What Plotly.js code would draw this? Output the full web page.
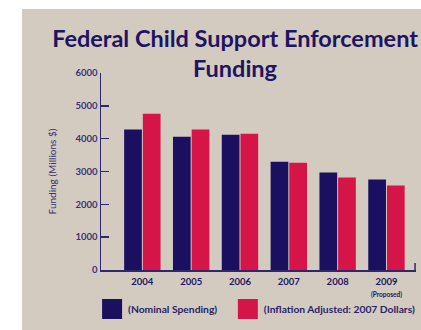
<!DOCTYPE html>
<html>
<head>
<meta charset="utf-8">
<script src="https://cdn.plot.ly/plotly-3.0.1.min.js"></script>
<style>
  html, body { margin: 0; padding: 0; background: #ffffff; }
  #chart { position: absolute; left: 22px; top: 9px; width: 399px; height: 321px; }
</style>
</head>
<body>
<div id="chart"></div>
<script>
// Federal child support enforcement funding, millions of dollars
const years = ['2004', '2005', '2006', '2007', '2008', '2009'];
const yearLabels = ['2004', '2005', '2006', '2007', '2008',
  '2009<br><span style="font-size:6.5px">(Proposed)</span>'];
const nominal = [4280, 4060, 4120, 3300, 2970, 2760];
const inflationAdjusted = [4760, 4280, 4150, 3270, 2820, 2570];
const yTicks = [0, 1000, 2000, 3000, 4000, 5000, 6000];

const navy = '#1b1060';
const red = '#d51448';
const ink = '#1e1462';
const axisInk = '#2e2770';
const font = 'Lato, "DejaVu Sans", sans-serif';

const traces = [
  {
    type: 'bar', name: '(Nominal Spending)',
    x: years, y: nominal,
    marker: { color: navy, line: { width: 0 } },
    legend: 'legend',
    hoverinfo: 'skip'
  },
  {
    type: 'bar', name: '(Inflation Adjusted: 2007 Dollars)',
    x: years, y: inflationAdjusted,
    marker: { color: red, line: { width: 0 } },
    legend: 'legend2',
    hoverinfo: 'skip'
  }
];

// one legend per series so each entry sits at its own spot under the axis
function legendAt(x) {
  return {
    orientation: 'h',
    x: x, xanchor: 'left',
    y: -0.198, yanchor: 'middle',
    bgcolor: 'rgba(0,0,0,0)',
    font: { family: font, size: 10.3, color: '#2a2268', weight: 'bold' },
    itemclick: false, itemdoubleclick: false
  };
}

const layout = {
  width: 399, height: 321,
  paper_bgcolor: '#d3cbc0',
  plot_bgcolor: 'rgba(0,0,0,0)',
  margin: { l: 79, r: 0, t: 64, b: 60 },
  barmode: 'group',
  bargap: 0.234,
  bargroupgap: 0.053,
  font: { family: font, color: ink },
  title: {
    text: '<b>Federal Child Support Enforcement<br>Funding</b>',
    font: { family: font, size: 23.5, color: ink },
    xref: 'container', x: 0.534, xanchor: 'center',
    yref: 'container', y: 0.883, yanchor: 'top'
  },
  xaxis: {
    type: 'category',
    range: [-0.847, 5.605],
    tickvals: years, ticktext: yearLabels,
    showline: true, linecolor: axisInk, linewidth: 1.5,
    ticks: '', showgrid: false, zeroline: false,
    ticklabelstandoff: 2,
    tickfont: { family: font, size: 9.5, color: ink, weight: 'bold' },
    fixedrange: true
  },
  yaxis: {
    range: [0, 6000],
    tickvals: yTicks,
    showline: true, linecolor: axisInk, linewidth: 1.5,
    ticks: 'inside', ticklen: 8, tickwidth: 1.5, tickcolor: axisInk,
    showgrid: false, zeroline: false,
    tickfont: { family: font, size: 9.5, color: '#3a3274', weight: 'bold' },
    title: {
      text: 'Funding (Millions $)',
      font: { family: font, size: 10, color: '#3a3274' },
      standoff: 17
    },
    fixedrange: true
  },
  showlegend: true,
  legend: legendAt(-0.041),
  legend2: legendAt(0.390),
  shapes: [
    { type: 'line', xref: 'paper', yref: 'paper', x0: 0.997, x1: 0.997, y0: 0, y1: 0.036,
      line: { color: axisInk, width: 1.5 } }
  ]
};

Plotly.newPlot('chart', traces, layout, { displayModeBar: false, staticPlot: true })
  .then(function (gd) {
    // enlarge the legend colour swatches to 20px squares, closer to their labels
    gd.querySelectorAll('.legendpoints path').forEach(function (p) {
      p.setAttribute('d', 'M14,10H-6V-10H14Z');
    });
  });
</script>
</body>
</html>
